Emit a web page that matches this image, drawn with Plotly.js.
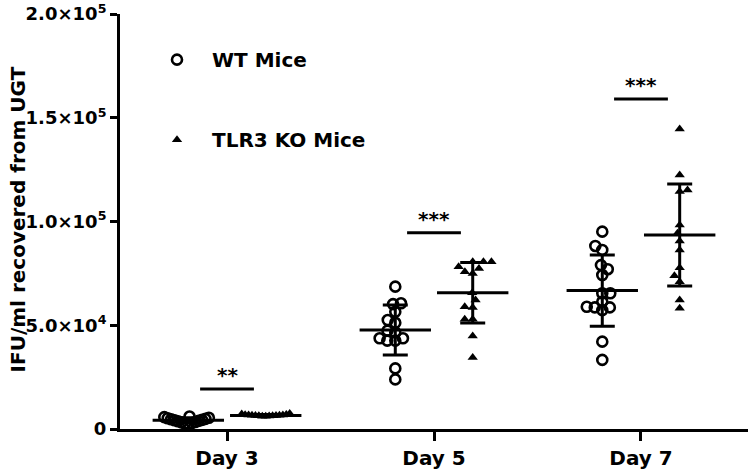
<!DOCTYPE html>
<html>
<head>
<meta charset="utf-8">
<script src="https://cdn.plot.ly/plotly-3.0.1.min.js"></script>
<style>html,body{margin:0;padding:0;background:#fff;}#chart{width:750px;height:471px;}</style>
</head>
<body>
<div id="chart"></div>
<script>
// ---- data ----
const days = ['Day 3', 'Day 5', 'Day 7'];
const groupNames = ['WT Mice', 'TLR3 KO Mice'];

const wtDay3 = [2400, 2600, 2900, 3200, 3400, 3700, 3900, 4200, 4400, 4700, 4900, 5200, 5400, 5700, 6000];
const wtDay5 = [68600, 60600, 60200, 56500, 52500, 51200, 47400, 46500, 43700, 42600, 42600, 43700, 29200, 23900];
const wtDay7 = [95100, 88200, 86300, 79000, 77000, 74200, 65400, 65400, 61300, 58600, 57300, 58600, 58900, 42100, 33300];

const koDay3 = [6100, 6200, 6300, 6400, 6400, 6500, 6500, 6600, 6600, 6700, 6800, 6900, 7000, 7200, 7500];
const koDay5 = [80600, 80600, 80600, 78200, 77400, 75000, 75800, 65700, 62200, 58600, 58900, 52900, 52900, 44800, 34500];
const koDay7 = [144600, 122400, 115200, 114400, 98300, 94300, 90600, 86300, 77700, 73900, 71000, 62200, 58200];

const wtMean = [4200, 47700, 66700];
const wtSD = [1200, 12000, 17200];
const koMean = [6500, 65700, 93500];
const koSD = [500, 14600, 24600];

const sigY = [19300, 94600, 159000];
const sigLabels = ['**', '***', '***'];

const yTickVals = [0, 50000, 100000, 150000, 200000];
const yTickText = ['<b>0</b>', '<b>5.0×10<sup>4</sup></b>', '<b>1.0×10<sup>5</sup></b>',
                   '<b>1.5×10<sup>5</sup></b>', '<b>2.0×10<sup>5</sup></b>'];
const yTitle = 'IFU/ml recovered from UGT';

// ---- layout helpers ----
const Y_MAX = 200000;
const PLOT_H = 415;           // px
const PX_PER_CAT = 207;       // px per category step
const GROUP_OFF = 0.187;      // category units
const FONT = 'DejaVu Sans';

// simple beeswarm: horizontal pixel offsets so that points do not overlap too much
function swarm(vals, minD, maxHalf) {
  const pyu = PLOT_H / Y_MAX;
  const idx = vals.map((v, i) => i).sort((a, b) => vals[a] - vals[b]);
  const placed = [];
  const off = new Array(vals.length);
  idx.forEach((i, k) => {
    const y = vals[i] * pyu;
    const cands = [0];
    placed.forEach(p => {
      const dy = Math.abs(p.y - y);
      if (dy < minD) {
        const dx = Math.sqrt(minD * minD - dy * dy);
        cands.push(p.x + dx, p.x - dx);
      }
    });
    cands.sort((a, b) => (Math.abs(a) - Math.abs(b)) || (k % 2 ? a - b : b - a));
    const x = cands.find(c => placed.every(p => Math.hypot(p.x - c, p.y - y) >= minD - 1e-6));
    placed.push({ x: x, y: y });
    off[i] = x;
  });
  const m = Math.max(...off.map(Math.abs));
  const s = m > maxHalf ? maxHalf / m : 1;
  return off.map(o => o * s / PX_PER_CAT);
}

function groupPoints(seriesList, side) {
  const xs = [], ys = [];
  seriesList.forEach((vals, d) => {
    const offs = swarm(vals, 8, 24);
    vals.forEach((v, i) => { xs.push(d + side * GROUP_OFF + offs[i]); ys.push(v); });
  });
  return { x: xs, y: ys };
}

const wtPts = groupPoints([wtDay3, wtDay5, wtDay7], -1);
const koPts = groupPoints([koDay3, koDay5, koDay7], 1);

const traces = [
  {
    type: 'scatter', mode: 'markers', name: groupNames[0], legendgroup: 'wt',
    x: wtPts.x, y: wtPts.y, cliponaxis: false,
    marker: { symbol: 'circle-open', size: 10, color: '#000', line: { width: 2.6, color: '#000' } },
    hoverinfo: 'y'
  },
  {
    type: 'scatter', mode: 'markers', name: groupNames[1], legendgroup: 'ko',
    x: koPts.x, y: koPts.y, cliponaxis: false,
    marker: { symbol: 'triangle-up', size: 9, color: '#000', line: { width: 0 } },
    hoverinfo: 'y'
  },
  {
    type: 'scatter', mode: 'markers', showlegend: false, legendgroup: 'wt',
    x: days.map((d, i) => i - GROUP_OFF), y: wtMean, cliponaxis: false,
    marker: { symbol: 'line-ew', size: 51, line: { width: 3, color: '#000' } },
    error_y: { type: 'data', array: wtSD, visible: true, color: '#000', thickness: 3, width: 12.5 },
    hoverinfo: 'y'
  },
  {
    type: 'scatter', mode: 'markers', showlegend: false, legendgroup: 'ko',
    x: days.map((d, i) => i + GROUP_OFF), y: koMean, cliponaxis: false,
    marker: { symbol: 'line-ew', size: 51, line: { width: 3, color: '#000' } },
    error_y: { type: 'data', array: koSD, visible: true, color: '#000', thickness: 3, width: 12.5 },
    hoverinfo: 'y'
  }
];

const shapes = sigY.map((y, i) => ({
  type: 'line', xref: 'x', yref: 'y', x0: i - 0.13, x1: i + 0.13, y0: y, y1: y,
  line: { color: '#000', width: 3 }
}));

const annotations = sigY.map((y, i) => ({
  xref: 'x', yref: 'y', x: i, y: y, text: sigLabels[i], showarrow: false,
  yanchor: 'bottom', yshift: 0,
  font: { family: FONT, size: 20, color: '#000', weight: 700 }
}));
annotations.push({
  xref: 'paper', yref: 'paper', x: (18 - 120) / 628, y: 0.505, text: yTitle, textangle: -90,
  showarrow: false, xanchor: 'center', yanchor: 'middle',
  font: { family: FONT, size: 20, color: '#000', weight: 700 }
});

const layout = {
  width: 750, height: 471,
  margin: { l: 120, r: 2, t: 14, b: 42 },
  paper_bgcolor: '#fff', plot_bgcolor: '#fff',
  showlegend: true,
  legend: {
    x: (142 - 120) / 628, y: 0.937, xanchor: 'left', yanchor: 'top',
    itemwidth: 60, tracegroupgap: 51, bgcolor: 'rgba(0,0,0,0)',
    font: { family: FONT, size: 20, color: '#000', weight: 700 }
  },
  xaxis: {
    range: [-0.517, 2.517], tickmode: 'array', tickvals: [0, 1, 2], ticktext: days,
    showgrid: false, zeroline: false, showline: true, linecolor: '#000', linewidth: 3,
    ticks: 'outside', ticklen: 9, tickwidth: 3, tickcolor: '#000',
    tickfont: { family: FONT, size: 20, color: '#000', weight: 700 }
  },
  yaxis: {
    range: [0, Y_MAX], tickmode: 'array', tickvals: yTickVals, ticktext: yTickText,
    showgrid: false, zeroline: false, showline: true, linecolor: '#000', linewidth: 3,
    ticks: 'outside', ticklen: 7, tickwidth: 3, tickcolor: '#000',
    tickfont: { family: FONT, size: 18, color: '#000', weight: 700 }
  },
  shapes: shapes,
  annotations: annotations
};

Plotly.newPlot('chart', traces, layout, { displayModeBar: false, staticPlot: true });
</script>
</body>
</html>
